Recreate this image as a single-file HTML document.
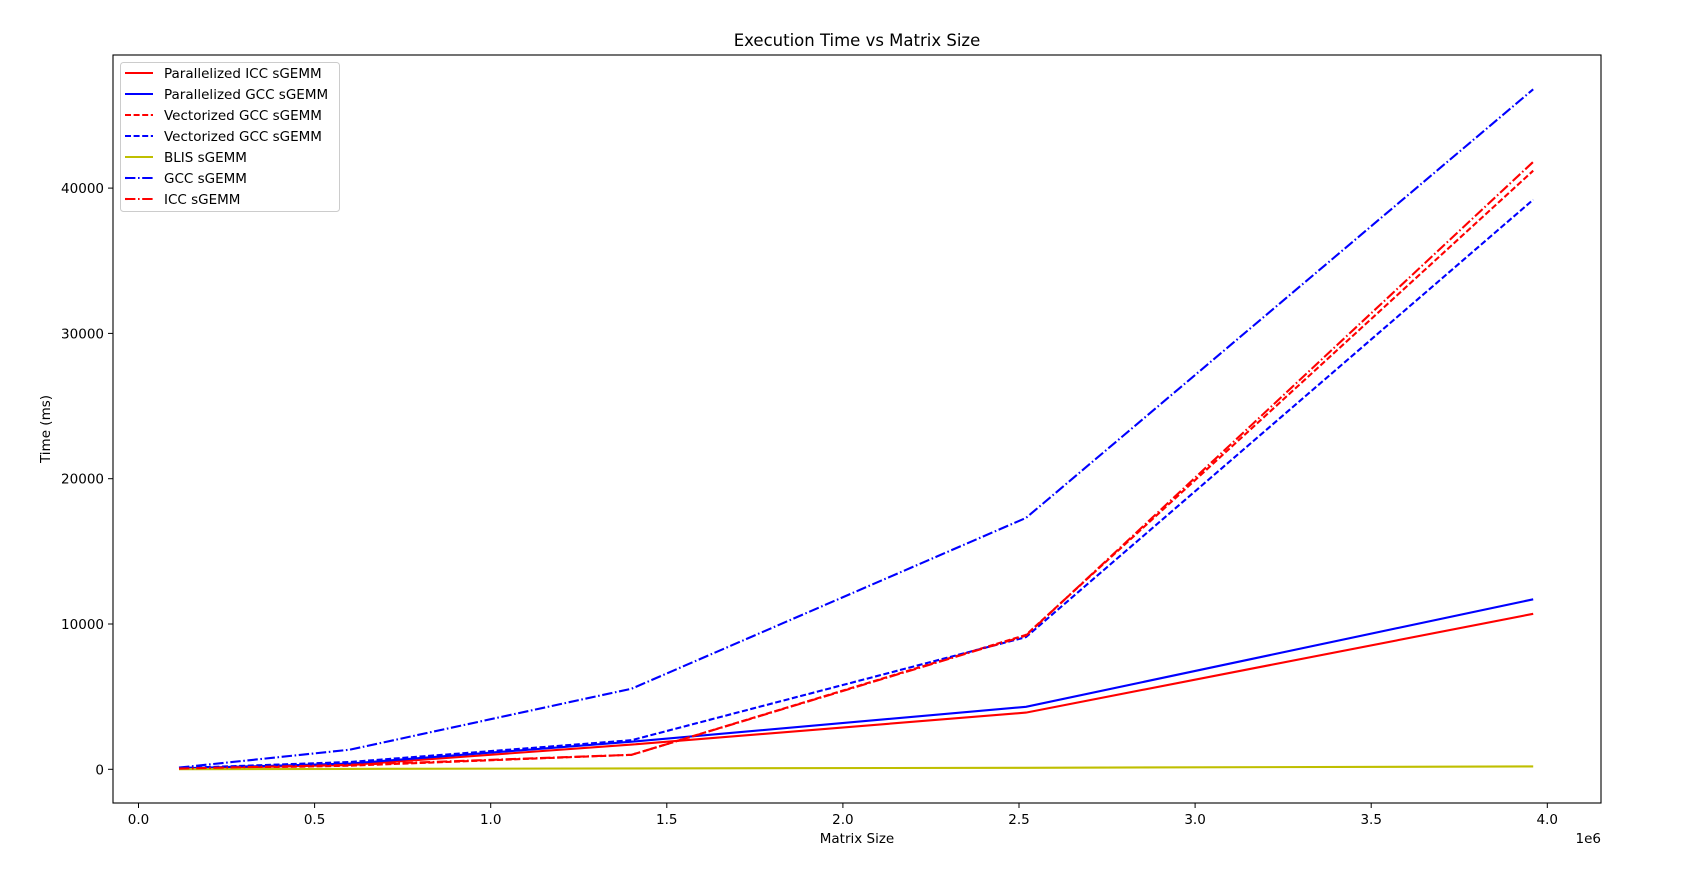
<!DOCTYPE html>
<html><head><meta charset="utf-8"><style>
body{margin:0;background:#fff;}
svg text{font-family:"DejaVu Sans","Liberation Sans",sans-serif;fill:#000;}
</style></head><body>
<svg id="chart" width="1689" height="866" xmlns="http://www.w3.org/2000/svg">
<rect width="1689" height="866" fill="#fff"/>
<g id="plot"></g>
<g id="axes"></g>
</svg>
<script>
const sizes = [0.115e6, 0.6e6, 1.4e6, 2.52e6, 3.96e6];
const parIcc = [50, 300, 1700, 3900, 10700];
const parGcc = [60, 400, 1900, 4300, 11700];
const vecIcc = [30, 250, 1000, 9250, 41200];
const vecGcc = [80, 500, 2000, 9100, 39200];
const blis = [10, 30, 60, 100, 200];
const gcc = [120, 1350, 5550, 17300, 46800];
const icc = [50, 300, 1000, 9200, 41800];
const xTicks = [0, 0.5e6, 1e6, 1.5e6, 2e6, 2.5e6, 3e6, 3.5e6, 4e6];
const xTickLabels = ["0.0","0.5","1.0","1.5","2.0","2.5","3.0","3.5","4.0"];
const yTicks = [0, 10000, 20000, 30000, 40000];
const yTickLabels = ["0","10000","20000","30000","40000"];
const seriesNames = ["Parallelized ICC sGEMM","Parallelized GCC sGEMM","Vectorized GCC sGEMM","Vectorized GCC sGEMM","BLIS sGEMM","GCC sGEMM","ICC sGEMM"];

const NS="http://www.w3.org/2000/svg";
const L=113,R=1601,T=55,B=803;
const xs=v=>138.5+v/0.5e6*176.1;
const ys=v=>769.3-v/10000*145.3;
function mk(tag,attrs,parent){const e=document.createElementNS(NS,tag);for(const k in attrs)e.setAttribute(k,attrs[k]);parent.appendChild(e);return e;}
const plot=document.getElementById('plot'),axes=document.getElementById('axes');
const dashed="6,2.6",dashdot="10.4,2.6,1.6,2.6";
const series=[
 {d:parIcc,c:"#ff0000",s:null,n:"parallelized-icc-line"},
 {d:parGcc,c:"#0000ff",s:null,n:"parallelized-gcc-line"},
 {d:vecIcc,c:"#ff0000",s:dashed,n:"vectorized-icc-line"},
 {d:vecGcc,c:"#0000ff",s:dashed,n:"vectorized-gcc-line"},
 {d:blis,c:"#bfbf00",s:null,n:"blis-line"},
 {d:gcc,c:"#0000ff",s:dashdot,n:"gcc-line"},
 {d:icc,c:"#ff0000",s:dashdot,n:"icc-line"}];
series.forEach(s=>{
 const p=mk('polyline',{points:s.d.map((v,i)=>xs(sizes[i]).toFixed(1)+","+ys(v).toFixed(1)).join(" "),fill:"none",stroke:s.c,"stroke-width":2.1},plot);
 if(s.s)p.setAttribute('stroke-dasharray',s.s);
 
 
});
const frame=mk('rect',{x:L,y:T,width:R-L,height:B-T,fill:"none",stroke:"#000","stroke-width":1.1},axes);


xTicks.forEach((v,i)=>{
 const x=xs(v);
 mk('line',{x1:x,y1:B,x2:x,y2:B+5,stroke:"#000","stroke-width":1},axes);
 const t=mk('text',{x:x,y:B+21,"text-anchor":"middle","font-size":13.5},axes);t.textContent=xTickLabels[i];
 
 
});
yTicks.forEach((v,i)=>{
 const y=ys(v);
 mk('line',{x1:L-5,y1:y,x2:L,y2:y,stroke:"#000","stroke-width":1},axes);
 const t=mk('text',{x:L-9,y:y+5,"text-anchor":"end","font-size":13.5},axes);t.textContent=yTickLabels[i];
 
 
});
let t;
t=mk('text',{x:R,y:843,"text-anchor":"end","font-size":13.5},axes);t.textContent="1e6";


t=mk('text',{x:(L+R)/2,y:46,"text-anchor":"middle","font-size":16.5},axes);t.textContent="Execution Time vs Matrix Size";


t=mk('text',{x:(L+R)/2,y:843,"text-anchor":"middle","font-size":13.5},axes);t.textContent="Matrix Size";


t=mk('text',{x:0,y:0,"text-anchor":"middle","font-size":13.5,transform:"translate(50,429) rotate(-90)"},axes);t.textContent="Time (ms)";


const leg=mk('g',{},axes);


mk('rect',{x:120.5,y:62.5,width:219,height:149,rx:3,fill:"#fff","fill-opacity":0.8,stroke:"#ccc","stroke-width":1},leg);
seriesNames.forEach((n,i)=>{
 const y=73+i*21;
 const g=mk('g',{},leg);
 
 
 const l=mk('line',{x1:125,y1:y,x2:153,y2:y,stroke:series[i].c,"stroke-width":2.1},g);
 if(series[i].s)l.setAttribute('stroke-dasharray',series[i].s);
 const tx=mk('text',{x:164,y:y+5,"font-size":13.5},g);tx.textContent=n;
});
</script>
</body></html>
